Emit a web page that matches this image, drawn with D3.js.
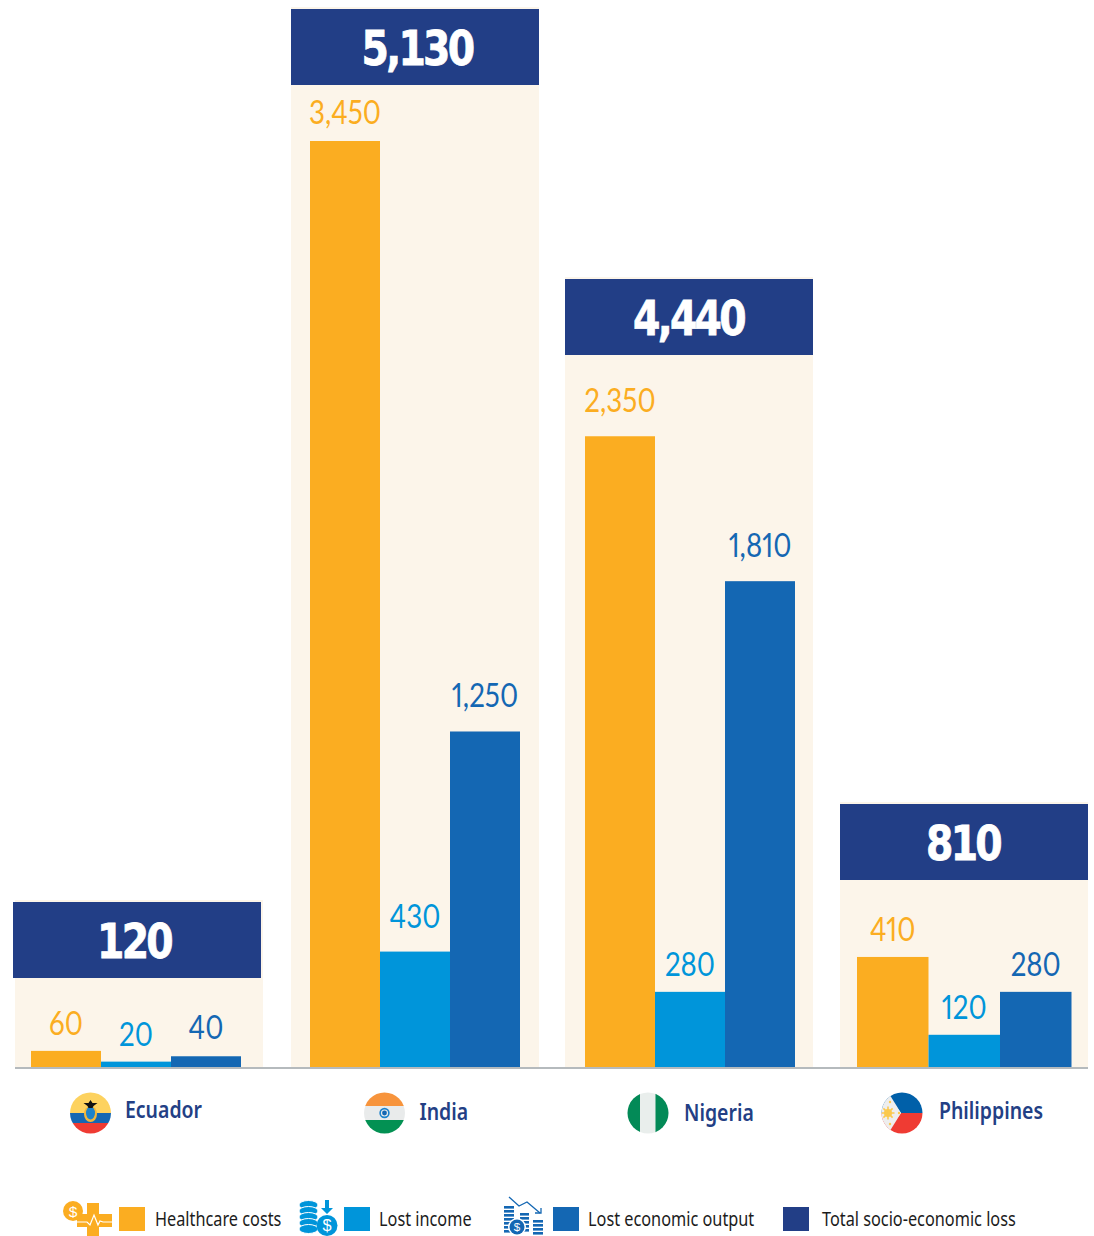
<!DOCTYPE html>
<html>
<head>
<meta charset="utf-8">
<script src="https://cdnjs.cloudflare.com/ajax/libs/d3/7.8.5/d3.min.js"></script>
<style>
html,body{margin:0;padding:0;background:#fff}
svg{display:block}
.val{font-family:Lato,"Noto Sans",sans-serif;font-size:33px;text-anchor:middle;font-feature-settings:"pnum" 1}
.total{font-family:"DejaVu Sans",sans-serif;font-weight:700;font-size:48px;fill:#fff;stroke:#fff;stroke-width:.8px;text-anchor:middle;letter-spacing:-3.3px}
.country{font-family:"Noto Sans",sans-serif;font-weight:600;font-size:22.5px;fill:#233f85}
.leg{font-family:"Noto Sans",sans-serif;font-size:19px;fill:#1c1c1c}
</style>
</head>
<body>
<div id="chart"></div>
<script>
// Socio-economic loss by country, with its three components
const countries = ["Ecuador", "India", "Nigeria", "Philippines"];
const healthcare = [60, 3450, 2350, 410];
const lostIncome = [20, 430, 280, 120];
const lostOutput = [40, 1250, 1810, 280];
const totals = [120, 5130, 4440, 810];
const legendLabels = ["Healthcare costs", "Lost income", "Lost economic output", "Total socio-economic loss"];

const colors = { health: "#FBAD21", income: "#0095DA", output: "#1467B3", total: "#223E86", panel: "#FCF5EA", axis: "#B5BABD" };
const seriesColors = [colors.health, colors.income, colors.output];
const fmt = d3.format(",");

// Panel layout per country
const panelLeft = [15, 291, 565, 840];
const headerLeft = [13, 291, 565, 840];
const headerTop = [902, 9, 279, 804];
const totalCenter = [134, 417, 688.5, 963];
const barLeft = [31, 310, 585, 857];
const barWidth = [70, 70, 70, 71.5];
const labelGap = [[16, 16, 17], [17, 24, 24], [24, 16, 24], [16, 16, 16]];
const labelBaseline = [1118, 1120, 1121, 1119];
const flagX = [90.5, 384.5, 648, 902];
const labelX = [125, 419.5, 684, 939];

const W = 1094, H = 1236, base = 1067;
const svg = d3.select("#chart").append("svg").attr("width", W).attr("height", H);
const y = d3.scaleLinear().domain([0, 3450]).range([base, 141]);

// Horizontal squeeze gives the narrow letterforms of the labels
const squeeze = (px, py, sx) => `translate(${px},${py}) scale(${sx},1)`;
const valueSqueeze = 0.84, totalSqueeze = 0.82, countrySqueeze = 0.865, legendSqueeze = 0.857;

countries.forEach((c, i) => {
  const g = svg.append("g");
  g.append("rect").attr("x", panelLeft[i]).attr("y", headerTop[i] - 2)
    .attr("width", 248).attr("height", base - headerTop[i] + 2).attr("fill", colors.panel);
  const vals = [healthcare[i], lostIncome[i], lostOutput[i]];
  const x = d3.scaleBand().domain(d3.range(3))
    .range([barLeft[i], barLeft[i] + barWidth[i] * 3]);
  g.selectAll(".bar").data(vals).join("rect").attr("class", "bar")
    .attr("x", (d, k) => x(k)).attr("width", x.bandwidth())
    .attr("y", d => y(d)).attr("height", d => base - y(d))
    .attr("fill", (d, k) => seriesColors[k]);
  g.selectAll(".val").data(vals).join("text").attr("class", "val")
    .attr("transform", (d, k) => squeeze(x(k) + x.bandwidth() / 2, y(d) - labelGap[i][k], valueSqueeze))
    .attr("fill", (d, k) => seriesColors[k])
    .text(d => fmt(d));
  g.append("rect").attr("x", headerLeft[i]).attr("y", headerTop[i])
    .attr("width", 248).attr("height", 76).attr("fill", colors.total);
  g.append("text").attr("class", "total")
    .attr("transform", squeeze(totalCenter[i], headerTop[i] + 56, totalSqueeze))
    .text(fmt(totals[i]));
  g.append("text").attr("class", "country")
    .attr("transform", squeeze(labelX[i], labelBaseline[i], countrySqueeze)).text(c);
});

// Axis line under the bars
svg.append("rect").attr("x", 15).attr("y", base).attr("width", 1073).attr("height", 2).attr("fill", colors.axis);

// Round flags
const defs = svg.append("defs");
const flagR = 20.5;
function flag(i) {
  defs.append("clipPath").attr("id", "flag" + i).append("circle").attr("r", flagR);
  return svg.append("g").attr("transform", `translate(${flagX[i]},1113)`)
    .append("g").attr("clip-path", `url(#flag${i})`);
}
function band(g, x, y0, w, h, fill) { g.append("rect").attr("x", x).attr("y", y0).attr("width", w).attr("height", h).attr("fill", fill); }

const ec = flag(0);
band(ec, -21, -21, 42, 21, "#FDD25F");
band(ec, -21, 0, 42, 10, "#1467B3");
band(ec, -21, 10, 42, 11, "#EF3B33");
ec.append("ellipse").attr("cy", 1).attr("rx", 6.5).attr("ry", 8).attr("fill", "#F0B63C");
ec.append("ellipse").attr("cy", 0).attr("rx", 4.5).attr("ry", 6.5).attr("fill", "#1B82CC");
ec.append("path").attr("d", "M-7,-10 L-2,-10 L0,-13 L2,-10 L7,-10 L3,-7 L2,-5 L-2,-5 L-3,-7Z").attr("fill", "#111");

const ind = flag(1);
band(ind, -21, -21, 42, 14, "#F7943C");
band(ind, -21, -7, 42, 14, "#E9EBEB");
band(ind, -21, 7, 42, 14, "#039153");
ind.append("circle").attr("r", 5.2).attr("fill", "#1B82CC");
ind.append("circle").attr("r", 3.6).attr("fill", "#E9EBEB");
ind.append("circle").attr("r", 2.4).attr("fill", "#1467B3");

const ng = flag(2);
band(ng, -21, -21, 42, 42, "#E9EEEC");
band(ng, -21, -21, 13, 42, "#038A57");
band(ng, 7.5, -21, 14, 42, "#038A57");

const ph = flag(3);
band(ph, -21, -21, 42, 21, "#0060A9");
band(ph, -21, 0, 42, 21, "#EF3B33");
ph.append("path").attr("d", "M-21,-21 L-14,-21 L-1,0 L-14,21 L-21,21Z").attr("fill", "#EEEEEE");
ph.append("path").attr("d", "M-14,-18 L-1,0 L-14,18Z").attr("fill", "#EEEEEE");
ph.append("circle").attr("cx", -14).attr("r", 4).attr("fill", "#FBC94E");
d3.range(8).forEach(k => {
  const a = k * Math.PI / 4;
  ph.append("line").attr("x1", -14).attr("y1", 0)
    .attr("x2", -14 + 6.5 * Math.cos(a)).attr("y2", 6.5 * Math.sin(a))
    .attr("stroke", "#FBC94E").attr("stroke-width", 1.6);
});
[[-12, -11], [-12, 11], [-3, 0]].forEach(p => ph.append("circle").attr("cx", p[0]).attr("cy", p[1]).attr("r", 1.2).attr("fill", "#FBC94E"));

// Legend
const swatchX = [119, 344, 553, 783];
const legendTextX = [155, 379, 588, 822];
const swatchColors = [colors.health, colors.income, colors.output, colors.total];
legendLabels.forEach((t, i) => {
  svg.append("rect").attr("x", swatchX[i]).attr("y", 1207).attr("width", 26).attr("height", 24).attr("fill", swatchColors[i]);
  svg.append("text").attr("class", "leg")
    .attr("transform", squeeze(legendTextX[i], 1226, legendSqueeze)).text(t);
});

function dollar(cx, cy, r, color) {
  svg.append("circle").attr("cx", cx).attr("cy", cy).attr("r", r).attr("fill", color);
  svg.append("text").attr("x", cx).attr("y", cy + r * 0.55).attr("text-anchor", "middle")
    .attr("font-family", "Liberation Sans, sans-serif").attr("font-size", r * 1.55).attr("fill", "#fff").text("$");
}

// Healthcare costs icon
svg.append("path").attr("d", "M87,1203H99V1214H112V1227H99V1236H87V1227H77V1214H87Z").attr("fill", colors.health);
svg.append("path").attr("d", "M77,1222H87L90,1225L94,1215L98,1225L100,1221L103,1222H112").attr("fill", "none").attr("stroke", "#fff").attr("stroke-width", 1.2);
dollar(73, 1211, 10, colors.health);

// Lost income icon
d3.range(5).forEach(k => {
  svg.append("ellipse").attr("cx", 308.5).attr("cy", 1205 + k * 6).attr("rx", 9.5).attr("ry", 4.5)
    .attr("fill", colors.income).attr("stroke", "#fff").attr("stroke-width", 1);
});
svg.append("path").attr("d", "M325,1200H329V1208H333L327,1214L321,1208H325Z").attr("fill", colors.income);
dollar(327, 1225.5, 10.5, colors.income);

// Lost economic output icon
[[504, 1206, 10], [520, 1213, 9], [533, 1220, 10]].forEach(s => {
  const top = s[1];
  d3.range(Math.floor((1236 - top) / 4)).forEach(k => {
    svg.append("rect").attr("x", s[0]).attr("y", top + k * 4).attr("width", s[2]).attr("height", 2.6).attr("fill", colors.output);
  });
});
svg.append("circle").attr("cx", 517).attr("cy", 1227).attr("r", 9).attr("fill", "#fff");
dollar(517, 1227, 7.5, colors.output);
svg.append("path").attr("d", "M509,1197L519,1206L527,1202L540,1213").attr("fill", "none").attr("stroke", colors.output).attr("stroke-width", 1.3);
svg.append("path").attr("d", "M535,1213H541V1208").attr("fill", "none").attr("stroke", colors.output).attr("stroke-width", 1.3);
</script>
</body>
</html>
